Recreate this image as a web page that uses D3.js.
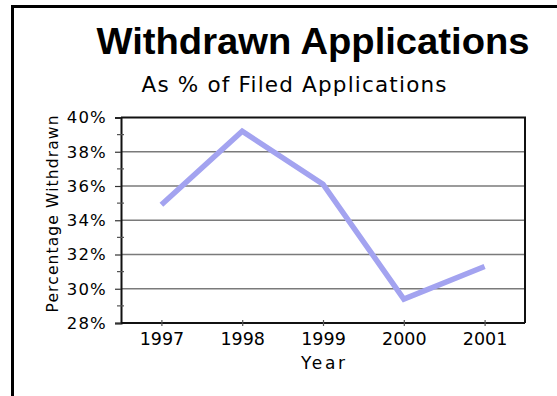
<!DOCTYPE html>
<html>
<head>
<meta charset="utf-8">
<script src="https://cdn.jsdelivr.net/npm/d3@7"></script>
<style>
  html, body { margin: 0; padding: 0; background: #fff; }
  svg { display: block; }
  text { font-family: "DejaVu Sans", "Liberation Sans", sans-serif; fill: #000; }
</style>
</head>
<body>
<svg id="chart" width="557" height="396"></svg>
<script>
// Withdrawn applications as a share of filed applications
const years = ["1997", "1998", "1999", "2000", "2001"];
const withdrawnPct = [34.9, 39.2, 36.1, 29.4, 31.3];
const yTickValues = [28, 30, 32, 34, 36, 38, 40];
const yMinorTicks = [29, 31, 33, 35, 37, 39];

const svg = d3.select("#chart");
const W = 557, H = 396;

svg.append("rect").attr("width", W).attr("height", H).attr("fill", "#fff");

// outer frame (runs off the right and bottom edges)
svg.append("rect")
  .attr("x", 12.5).attr("y", 6.5)
  .attr("width", W + 20).attr("height", H + 20)
  .attr("fill", "none").attr("stroke", "#000").attr("stroke-width", 3);

const plot = { left: 121, right: 525, top: 117.5, bottom: 323 };

const x = d3.scalePoint().domain(years).range([plot.left, plot.right]).padding(0.5);
const y = d3.scaleLinear().domain([28, 40]).range([plot.bottom, plot.top]);

// titles
svg.append("text")
  .attr("x", 313).attr("y", 54)
  .attr("text-anchor", "middle")
  .attr("font-weight", "bold").attr("font-size", 36)
  .attr("textLength", 433).attr("lengthAdjust", "spacingAndGlyphs")
  .style("font-family", "'Liberation Sans', Arial, sans-serif")
  .text("Withdrawn Applications");

svg.append("text")
  .attr("x", 294).attr("y", 92)
  .attr("text-anchor", "middle")
  .attr("font-size", 21.5)
  .attr("textLength", 305).attr("lengthAdjust", "spacing")
  .text("As % of Filed Applications");

// horizontal gridlines
svg.append("g")
  .selectAll("line")
  .data(yTickValues.slice(1, -1))
  .join("line")
  .attr("x1", plot.left).attr("x2", plot.right)
  .attr("y1", d => y(d)).attr("y2", d => y(d))
  .attr("stroke", "#7a7a7a").attr("stroke-width", 1.5);

// plot frame: top and right
svg.append("path")
  .attr("d", `M${plot.left},${plot.top}H${plot.right}V${plot.bottom}`)
  .attr("fill", "none").attr("stroke", "#111").attr("stroke-width", 2);

// y axis
const yAxis = d3.axisLeft(y)
  .tickValues(yTickValues)
  .tickSize(6)
  .tickPadding(8)
  .tickFormat(d => d + "%");
const gy = svg.append("g").attr("transform", `translate(${plot.left},0)`).call(yAxis);
gy.select(".domain").attr("stroke", "#111").attr("stroke-width", 2);
gy.selectAll(".tick line").attr("stroke", "#333").attr("stroke-width", 1.2);
gy.selectAll(".tick text")
  .attr("font-size", 16.5)
  .attr("letter-spacing", 1.2)
  .style("font-family", "'DejaVu Sans', sans-serif")
  .attr("fill", "#000");

// minor ticks crossing the y axis
svg.append("g")
  .selectAll("line")
  .data(yMinorTicks)
  .join("line")
  .attr("x1", plot.left - 4).attr("x2", plot.left + 3)
  .attr("y1", d => y(d)).attr("y2", d => y(d))
  .attr("stroke", "#555").attr("stroke-width", 1.2);

// x axis
const xAxis = d3.axisBottom(x).tickSize(3).tickPadding(7);
const gx = svg.append("g").attr("transform", `translate(0,${plot.bottom})`).call(xAxis);
gx.select(".domain").attr("d", `M${plot.left},0H${plot.right}`)
  .attr("stroke", "#111").attr("stroke-width", 2);
gx.selectAll(".tick line").attr("y1", -3).attr("stroke", "#555").attr("stroke-width", 1.2);
gx.selectAll(".tick text")
  .attr("font-size", 17.5)
  .style("font-family", "'DejaVu Sans', sans-serif")
  .attr("fill", "#000");

// axis titles
svg.append("text")
  .attr("x", (plot.left + plot.right) / 2).attr("y", 369)
  .attr("text-anchor", "middle")
  .attr("font-size", 17)
  .attr("textLength", 44).attr("lengthAdjust", "spacing")
  .text("Year");

svg.append("text")
  .attr("transform", "translate(58,214) rotate(-90)")
  .attr("text-anchor", "middle")
  .attr("font-size", 15.5)
  .attr("textLength", 197).attr("lengthAdjust", "spacing")
  .text("Percentage Withdrawn");

// data line
const line = d3.line()
  .x((d, i) => x(years[i]))
  .y(d => y(d));

svg.append("path")
  .datum(withdrawnPct)
  .attr("d", line)
  .attr("fill", "none")
  .attr("stroke", "#a3a3f0")
  .attr("stroke-width", 5.5)
  .attr("stroke-linejoin", "miter")
  .attr("stroke-linecap", "butt");
</script>
</body>
</html>
